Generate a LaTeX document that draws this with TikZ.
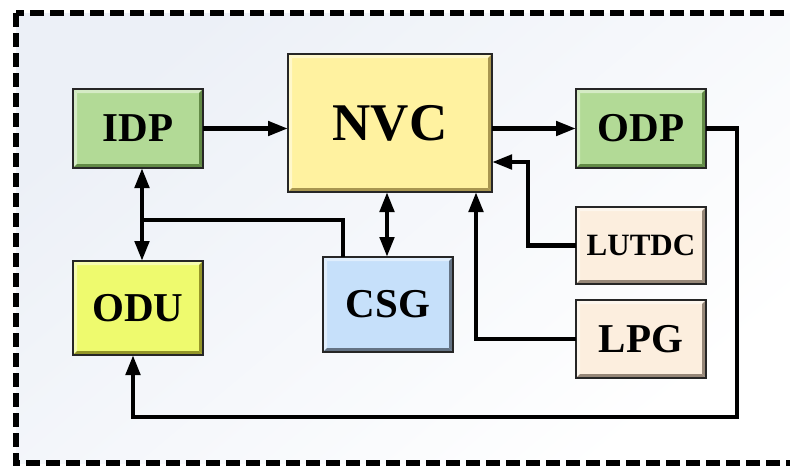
\documentclass[tikz,border=0pt]{standalone}
\usepackage{fontspec}
\setmainfont{Liberation Serif}
\usetikzlibrary{arrows.meta,calc}
\definecolor{bgtl}{RGB}{236,240,247}
\definecolor{gfill}{RGB}{178,218,150}
\definecolor{gdark}{RGB}{98,138,70}
\definecolor{yfill}{RGB}{255,242,160}
\definecolor{ydark}{RGB}{168,150,80}
\definecolor{ufill}{RGB}{238,250,110}
\definecolor{udark}{RGB}{148,150,40}
\definecolor{cfill}{RGB}{198,224,250}
\definecolor{cdark}{RGB}{100,115,132}
\definecolor{bfill}{RGB}{252,238,222}
\definecolor{bdark}{RGB}{150,135,120}
\tikzset{
  blk/.style n args={4}{draw=black!85, line width=1.3pt, fill=#1,
    minimum width=#3, minimum height=#4, inner sep=0pt, outer sep=0pt,
    font=\bfseries\fontsize{41}{41}\selectfont,
    path picture={
      \fill[#1!55!white] (path picture bounding box.north west) -- (path picture bounding box.north east)
        -- ([shift={(-4pt,-4pt)}]path picture bounding box.north east)
        -- ([shift={(4pt,-4pt)}]path picture bounding box.north west) -- cycle;
      \fill[#1!55!white] (path picture bounding box.north west) -- (path picture bounding box.south west)
        -- ([shift={(4pt,4pt)}]path picture bounding box.south west)
        -- ([shift={(4pt,-4pt)}]path picture bounding box.north west) -- cycle;
      \fill[#2] (path picture bounding box.north east) -- (path picture bounding box.south east)
        -- ([shift={(-4pt,4pt)}]path picture bounding box.south east)
        -- ([shift={(-4pt,-4pt)}]path picture bounding box.north east) -- cycle;
      \fill[#2] (path picture bounding box.south west) -- (path picture bounding box.south east)
        -- ([shift={(-4pt,4pt)}]path picture bounding box.south east)
        -- ([shift={(4pt,4pt)}]path picture bounding box.south west) -- cycle;
    }},
  conn/.style={line width=4.6pt, draw=black},
  arr/.style={conn, -{Triangle[length=20pt,width=14pt]}},
  darr/.style={conn, {Triangle[length=20pt,width=14pt]}-{Triangle[length=20pt,width=14pt]}},
  frame/.style={line width=6pt, dash pattern=on 14pt off 6pt}
}
\begin{document}
\begin{tikzpicture}[x=1pt,y=-1pt]
\useasboundingbox (0,0) rectangle (790,467);
\fill[white] (0,0) rectangle (790,467);
\shade[top color=bgtl, bottom color=white, shading angle=40] (16,13) rectangle (795,463);
\draw[frame] (16,13) rectangle (800,463);

\node[blk={gfill}{gdark}{130pt}{79pt}] (IDP) at (138,128.5) {IDP};
\node[blk={yfill}{ydark}{204pt}{138pt}, font=\bfseries\fontsize{53}{53}\selectfont] (NVC) at (390,123) {NVC};
\node[blk={gfill}{gdark}{130pt}{79pt}] (ODP) at (641,128.5) {ODP};
\node[blk={ufill}{udark}{130pt}{94pt}] (ODU) at (138,308) {ODU};
\node[blk={cfill}{cdark}{130pt}{95pt}] (CSG) at (388,304.5) {CSG};
\node[blk={bfill}{bdark}{130pt}{77pt}, font=\bfseries\fontsize{31}{31}\selectfont] (LUTDC) at (641,245.5) {LUTDC};
\node[blk={bfill}{bdark}{130pt}{78pt}] (LPG) at (641,339) {LPG};

\coordinate (c1) at (528,162);
\coordinate (c2) at (476,338);
\coordinate (c3) at (737,417);
\coordinate (c4) at (133,417);
\coordinate (c5) at (142,220);
\coordinate (c6) at (343,220);
\coordinate (c7) at (387,220);

\draw[arr] (IDP.east) -- (IDP.east -| NVC.west);
\draw[arr] (ODP.west -| NVC.east) -- (ODP.west);
\draw[arr] (LUTDC.west) -| (c1) -- (c1 -| NVC.east);
\draw[arr] (LPG.west) -| (c2 |- NVC.south);
\draw[arr] (ODP.east) -| (c3) -- (c4) -- (c4 |- ODU.south);
\draw[darr] (c5 |- IDP.south) -- (c5 |- ODU.north);
\draw[conn] (c5) -- (c6) -- (c6 |- CSG.north);
\draw[darr] (c7 |- NVC.south) -- (c7 |- CSG.north);
\end{tikzpicture}
\end{document}
